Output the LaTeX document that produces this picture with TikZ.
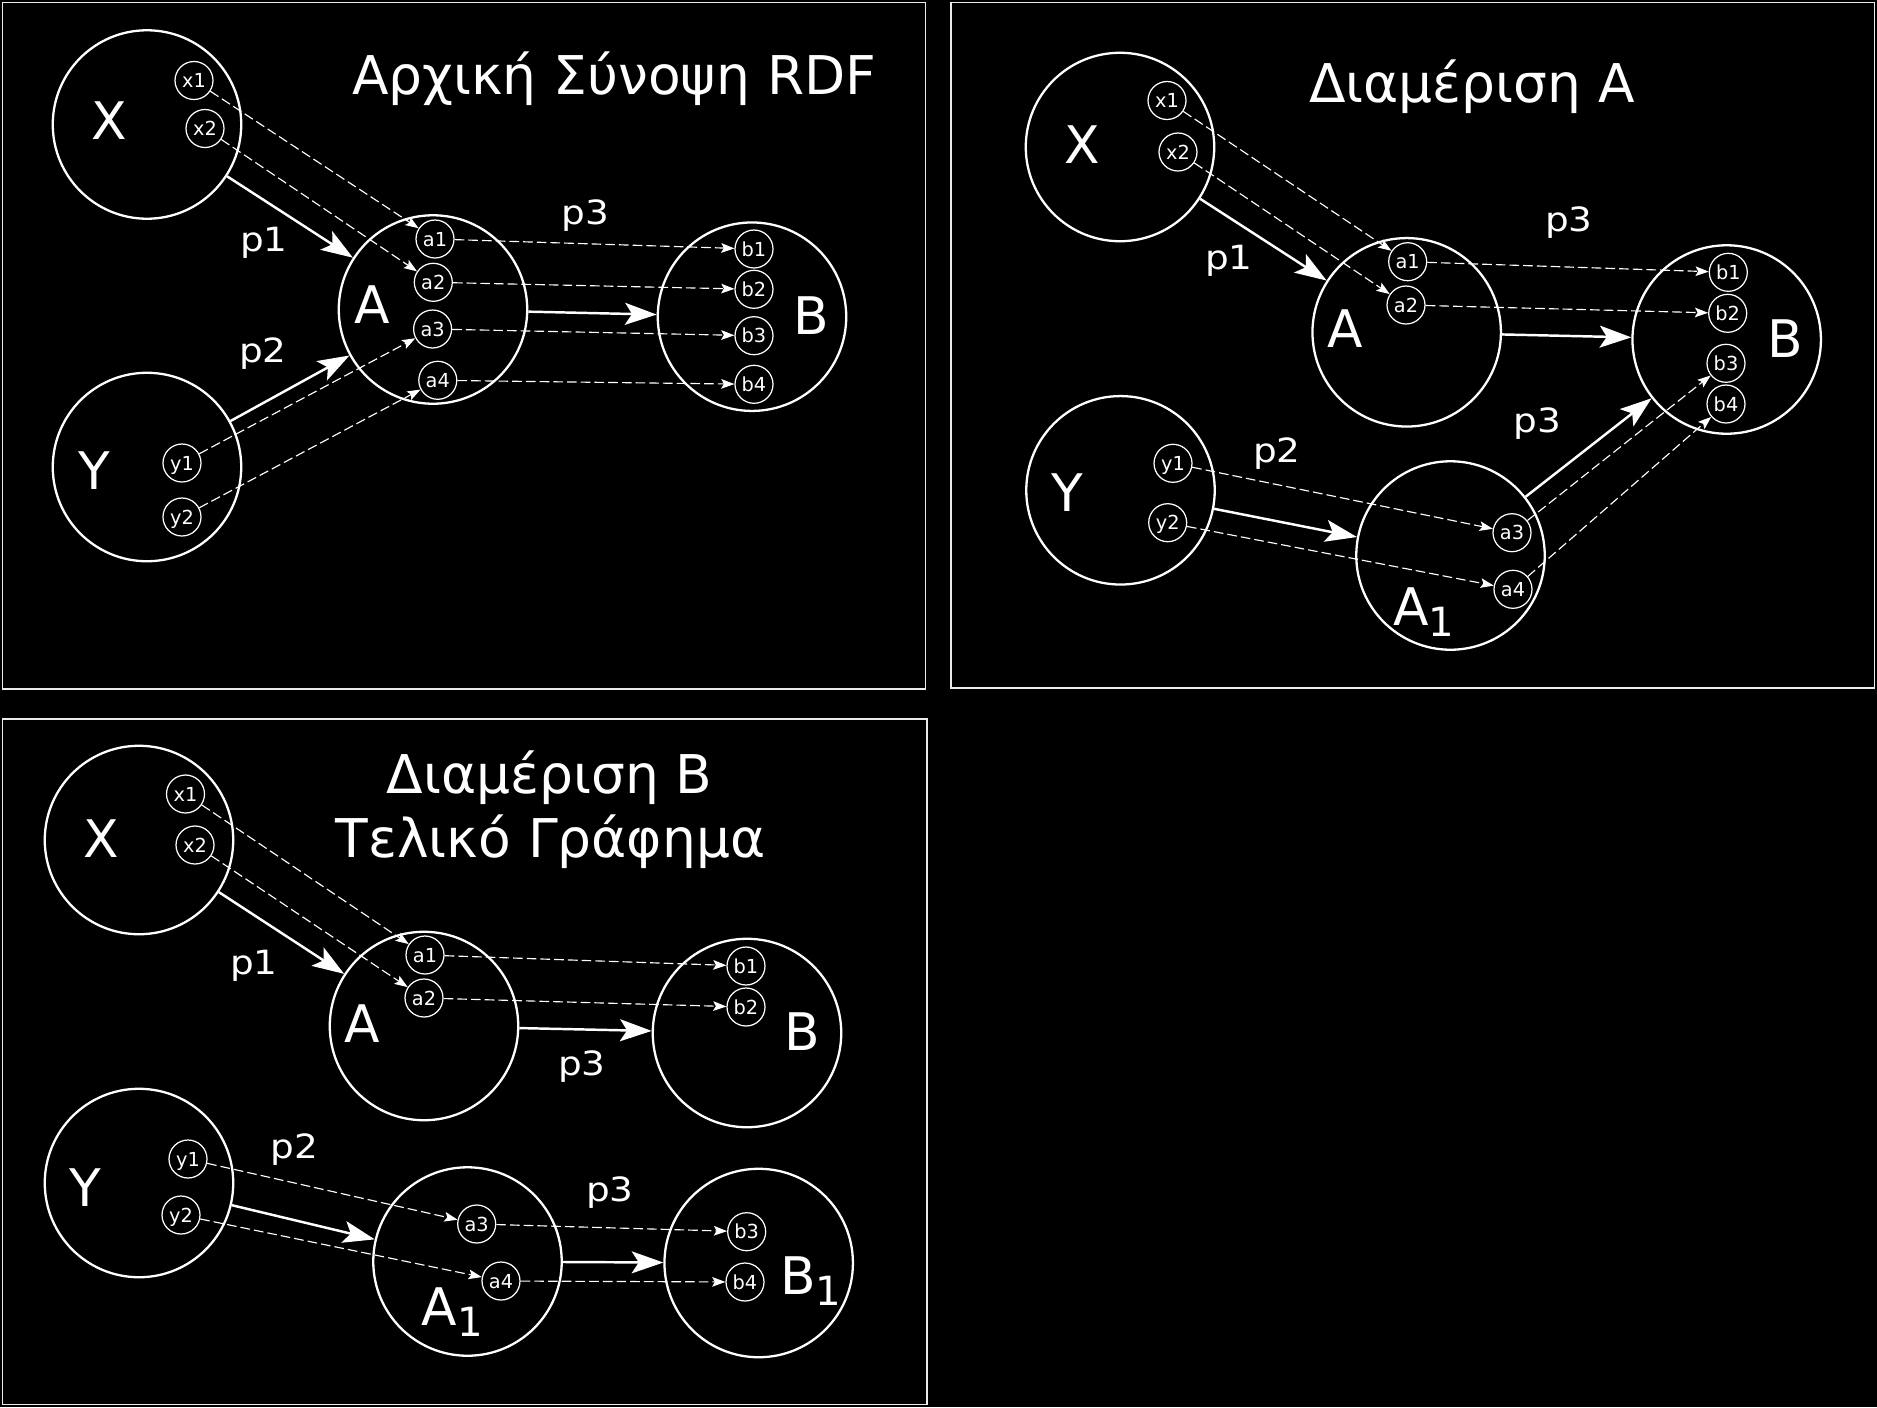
\documentclass[tikz,border=0pt]{standalone}
\usepackage{fontspec}
\setmainfont{DejaVu Sans}
\usetikzlibrary{arrows.meta}
\begin{document}
\begin{tikzpicture}[x=0.02cm,y=-0.02cm,
  bigc/.style={circle,draw=white,line width=1.3pt,minimum size=3.77cm,inner sep=0pt},
  smallc/.style={circle,draw=white,line width=0.7pt,minimum size=0.76cm,inner sep=0pt,text=white,font=\fontsize{11}{11}\selectfont,text height=8pt,text depth=0pt},
  biglab/.style={text=white,inner sep=0pt,font=\fontsize{29.5}{29.5}\selectfont,text height=21.5pt,text depth=0pt},
  sublab/.style={text=white,inner sep=0pt,font=\fontsize{29.5}{29.5}\selectfont,anchor=base},
  plab/.style={text=white,inner sep=0pt,font=\fontsize{19}{19}\selectfont,text height=13.8pt,text depth=0pt},
  ttl/.style={text=white,inner sep=0pt,font=\fontsize{30.4}{30.4}\selectfont,anchor=base},
  thickarr/.style={draw=white,line width=1.4pt,-{Stealth[length=18pt,width=12.5pt,inset=4pt]}},
  dasharr/.style={draw=white,line width=0.65pt,dash pattern=on 5.5pt off 2.3pt,-{Stealth[length=7.5pt,width=5.5pt,inset=1.5pt]}},
  frame/.style={draw=white!92!black,line width=1.1pt}
]
\fill[black] (0,0) rectangle (1877,1407);
\useasboundingbox (0,0) rectangle (1877,1407);
\newcommand{\subone}{\raisebox{-6.3pt}{\fontsize{22.9}{22.9}\selectfont 1}}
\newcommand{\pwide}[1]{\scalebox{1.12}[1]{#1}}

% ---------------- Panel 1 ----------------
\draw[frame] (2.5,2.5) rectangle (925.5,689);
\node[ttl] (t1) at (614,94) {Αρχική Σύνοψη RDF};
\node[bigc] (P1X) at (147,124.5) {};
\node[bigc] (P1Y) at (147,467) {};
\node[bigc] (P1A) at (433,309.5) {};
\node[bigc] (P1B) at (752,316.7) {};
\node[biglab] (P1lX) at (109.7,120.5) {X};
\node[biglab] (P1lY) at (94.6,470.4) {Y};
\node[biglab] (P1lA) at (372,304.5) {A};
\node[biglab] (P1lB) at (811.3,315.5) {B};
\node[smallc] (P1x1) at (194,80.5) {x1};
\node[smallc] (P1x2) at (205,128.5) {x2};
\node[smallc] (P1y1) at (182,463) {y1};
\node[smallc] (P1y2) at (182,517) {y2};
\node[smallc] (P1a1) at (435,239) {a1};
\node[smallc] (P1a2) at (433.3,282.3) {a2};
\node[smallc] (P1a3) at (432.6,329) {a3};
\node[smallc] (P1a4) at (437.8,380.3) {a4};
\node[smallc] (P1b1) at (754,249) {b1};
\node[smallc] (P1b2) at (754,289.3) {b2};
\node[smallc] (P1b3) at (754,335.7) {b3};
\node[smallc] (P1b4) at (754,384.3) {b4};
\node[plab] (P1p1) at (264,239.5) {\pwide{p1}};
\node[plab] (P1p2) at (263,350) {\pwide{p2}};
\node[plab] (P1p3) at (585.6,212) {\pwide{p3}};
\draw[thickarr] (P1X) -- (P1A);
\draw[thickarr] (P1Y) -- (P1A);
\draw[thickarr] (P1A) -- (P1B);
\draw[dasharr] (P1x1) -- (P1a1);
\draw[dasharr] (P1x2) -- (P1a2);
\draw[dasharr] (P1y1) -- (P1a3);
\draw[dasharr] (P1y2) -- (P1a4);
\draw[dasharr] (P1a1) -- (P1b1);
\draw[dasharr] (P1a2) -- (P1b2);
\draw[dasharr] (P1a3) -- (P1b3);
\draw[dasharr] (P1a4) -- (P1b4);

% ---------------- Panel 2 ----------------
\draw[frame] (951,2.5) rectangle (1874.5,688);
\node[ttl] (t2) at (1472,102.7) {Διαμέριση A};
\node[bigc] (P2X) at (1120,147) {};
\node[bigc] (P2A) at (1406.7,332.3) {};
\node[bigc] (P2B) at (1726.7,339.5) {};
\node[bigc] (P2Y) at (1120.5,490.3) {};
\node[bigc] (P2A1) at (1450.5,555.5) {};
\node[biglab] (P2lX) at (1082,145) {X};
\node[biglab] (P2lY) at (1067.5,492.5) {Y};
\node[biglab] (P2lA) at (1345.6,329) {A};
\node[biglab] (P2lB) at (1785,338.3) {B};
\node[sublab] (P2lA1) at (1424,625) {A\subone};
\node[smallc] (P2x1) at (1167,100.5) {x1};
\node[smallc] (P2x2) at (1178,152) {x2};
\node[smallc] (P2a1) at (1407.7,261.7) {a1};
\node[smallc] (P2a2) at (1406,305) {a2};
\node[smallc] (P2b1) at (1728.3,272.3) {b1};
\node[smallc] (P2b2) at (1727.7,313.3) {b2};
\node[smallc] (P2b3) at (1726,363.3) {b3};
\node[smallc] (P2b4) at (1726,404) {b4};
\node[smallc] (P2y1) at (1173,463.3) {y1};
\node[smallc] (P2y2) at (1167.7,522.7) {y2};
\node[smallc] (P2a3) at (1512,532.7) {a3};
\node[smallc] (P2a4) at (1513,589.3) {a4};
\node[plab] (P2p1) at (1229,257.4) {\pwide{p1}};
\node[plab] (P2p2) at (1277,450) {\pwide{p2}};
\node[plab] (P2p3a) at (1569,219) {\pwide{p3}};
\node[plab] (P2p3b) at (1537.5,420.3) {\pwide{p3}};
\draw[thickarr] (P2X) -- (P2A);
\draw[thickarr] (P2A) -- (P2B);
\draw[thickarr] (P2Y) -- (P2A1);
\draw[thickarr] (P2A1) -- (P2B);
\draw[dasharr] (P2x1) -- (P2a1);
\draw[dasharr] (P2x2) -- (P2a2);
\draw[dasharr] (P2a1) -- (P2b1);
\draw[dasharr] (P2a2) -- (P2b2);
\draw[dasharr] (P2y1) -- (P2a3);
\draw[dasharr] (P2y2) -- (P2a4);
\draw[dasharr] (P2a3) -- (P2b3);
\draw[dasharr] (P2a4) -- (P2b4);

% ---------------- Panel 3 ----------------
\draw[frame] (2.5,718.7) rectangle (927,1404.5);
\node[ttl] (t3a) at (549.6,793.3) {Διαμέριση B};
\node[ttl] (t3b) at (550.5,857.3) {Τελικό Γράφημα};
\node[bigc] (P3X) at (139,840) {};
\node[bigc] (P3A) at (424,1026) {};
\node[bigc] (P3B) at (747,1033) {};
\node[bigc] (P3Y) at (139,1183) {};
\node[bigc] (P3A1) at (467.5,1261.5) {};
\node[bigc] (P3B1) at (758.7,1263) {};
\node[biglab] (P3lX) at (101.7,839) {X};
\node[biglab] (P3lY) at (85,1187.5) {Y};
\node[biglab] (P3lA) at (362.7,1023.5) {A};
\node[biglab] (P3lB) at (802,1032) {B};
\node[sublab] (P3lA1) at (452.5,1325.7) {A\subone};
\node[sublab] (P3lB1) at (810.7,1294) {B\subone};
\node[smallc] (P3x1) at (185.5,794) {x1};
\node[smallc] (P3x2) at (195,845) {x2};
\node[smallc] (P3a1) at (425,955) {a1};
\node[smallc] (P3a2) at (424,998) {a2};
\node[smallc] (P3b1) at (746,966) {b1};
\node[smallc] (P3b2) at (746,1007) {b2};
\node[smallc] (P3y1) at (188,1159) {y1};
\node[smallc] (P3y2) at (181,1215) {y2};
\node[smallc] (P3a3) at (476.7,1224) {a3};
\node[smallc] (P3a4) at (501,1281) {a4};
\node[smallc] (P3b3) at (746.7,1231.7) {b3};
\node[smallc] (P3b4) at (745,1282) {b4};
\node[plab] (P3p1) at (253.8,962.4) {\pwide{p1}};
\node[plab] (P3p3a) at (581.8,1063) {\pwide{p3}};
\node[plab] (P3p2) at (294.5,1146.8) {\pwide{p2}};
\node[plab] (P3p3b) at (610,1189) {\pwide{p3}};
\draw[thickarr] (P3X) -- (P3A);
\draw[thickarr] (P3A) -- (P3B);
\draw[thickarr] (P3Y) -- (P3A1);
\draw[thickarr] (P3A1) -- (P3B1);
\draw[dasharr] (P3x1) -- (P3a1);
\draw[dasharr] (P3x2) -- (P3a2);
\draw[dasharr] (P3a1) -- (P3b1);
\draw[dasharr] (P3a2) -- (P3b2);
\draw[dasharr] (P3y1) -- (P3a3);
\draw[dasharr] (P3y2) -- (P3a4);
\draw[dasharr] (P3a3) -- (P3b3);
\draw[dasharr] (P3a4) -- (P3b4);
\end{tikzpicture}
\end{document}
